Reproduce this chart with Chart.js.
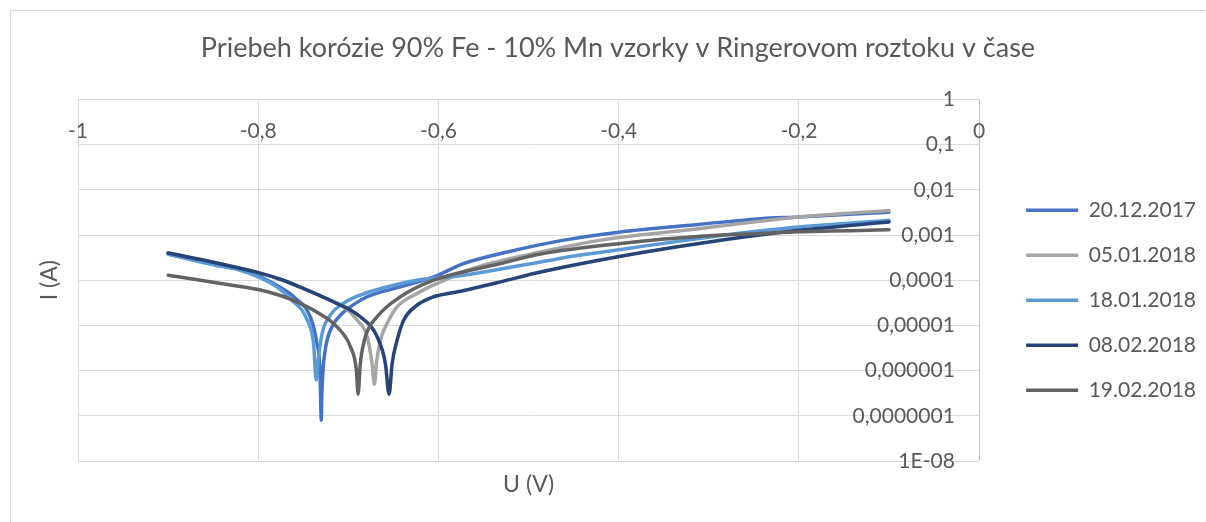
<!DOCTYPE html>
<html>
<head>
<meta charset="utf-8">
<script src="https://cdn.jsdelivr.net/npm/chart.js@4/dist/chart.umd.min.js"></script>
<style>
  body { margin: 0; background: #ffffff; }
</style>
</head>
<body>
<canvas id="line-chart" width="1206" height="522"></canvas>
<script>
// series names
var seriesNames = ["20.12.2017", "05.01.2018", "18.01.2018", "08.02.2018", "19.02.2018"];
var seriesColors = ["#4472C4", "#A5A5A5", "#5B9BD5", "#264478", "#636363"];

// U (V) / I (A) per series
var u1 = [-0.9, -0.85, -0.82, -0.8, -0.79, -0.78, -0.76, -0.742, -0.735, -0.7315, -0.730, -0.7295, -0.7281, -0.7244, -0.7181, -0.707, -0.6978, -0.6792, -0.6422, -0.6052, -0.5719, -0.5237, -0.4608, -0.3978, -0.3089, -0.2422, -0.2, -0.1];
var i1 = [3.9e-4, 2.3e-4, 1.7e-4, 1.25e-4, 1.0e-4, 7.8e-5, 4.2e-5, 1.5e-5, 4.2e-6, 1.0e-6, 8.0e-8, 2.6e-7, 1.03e-6, 4.0e-6, 9.3e-6, 1.84e-5, 2.57e-5, 4.3e-5, 7.1e-5, 1.18e-4, 2.34e-4, 4.2e-4, 7.7e-4, 1.17e-3, 1.73e-3, 2.3e-3, 2.5e-3, 3.2e-3];

var u2 = [-0.9, -0.85, -0.8, -0.7756, -0.7533, -0.724, -0.705, -0.69, -0.679, -0.6737, -0.671, -0.6689, -0.6644, -0.657, -0.6459, -0.6237, -0.6014, -0.561, -0.4867, -0.42, -0.3089, -0.2, -0.1];
var i2 = [4.0e-4, 2.5e-4, 1.47e-4, 1.05e-4, 7.0e-5, 3.9e-5, 2.57e-5, 1.3e-5, 5.6e-6, 1.44e-6, 5.0e-7, 1.44e-6, 4.7e-6, 1.1e-5, 2.57e-5, 5.1e-5, 8.5e-5, 1.84e-4, 4.2e-4, 7.7e-4, 1.4e-3, 2.5e-3, 3.5e-3];

var u3 = [-0.9, -0.85, -0.82, -0.8, -0.79, -0.7793, -0.7644, -0.746, -0.7386, -0.7356, -0.733, -0.7292, -0.72, -0.7052, -0.6867, -0.6608, -0.6237, -0.5756, -0.4867, -0.4422, -0.3978, -0.3089, -0.2422, -0.2, -0.1];
var i3 = [3.76e-4, 2.18e-4, 1.66e-4, 1.19e-4, 9.5e-5, 7.1e-5, 3.9e-5, 1.37e-5, 4.0e-6, 6.2e-7, 2.0e-6, 6.6e-6, 1.69e-5, 3.1e-5, 4.7e-5, 6.8e-5, 1.0e-4, 1.26e-4, 2.54e-4, 3.6e-4, 4.8e-4, 8.5e-4, 1.24e-3, 1.51e-3, 2.12e-3];

var u4 = [-0.9, -0.85, -0.8, -0.7756, -0.7533, -0.7163, -0.6867, -0.668, -0.6589, -0.6548, -0.6514, -0.6459, -0.6386, -0.6237, -0.6052, -0.5756, -0.5311, -0.4867, -0.3978, -0.3089, -0.2, -0.1];
var i4 = [4.0e-4, 2.5e-4, 1.47e-4, 1.05e-4, 7.0e-5, 3.3e-5, 1.55e-5, 5.6e-6, 1.44e-6, 3.0e-7, 1.44e-6, 4.7e-6, 1.3e-5, 2.8e-5, 4.3e-5, 5.7e-5, 9.2e-5, 1.52e-4, 3.4e-4, 6.6e-4, 1.27e-3, 1.94e-3];

var u5 = [-0.9, -0.85, -0.8, -0.78, -0.7644, -0.7348, -0.7126, -0.6978, -0.6911, -0.6892, -0.6867, -0.6811, -0.6681, -0.6422, -0.6052, -0.5311, -0.4867, -0.3978, -0.3089, -0.2422, -0.2, -0.1];
var i5 = [1.29e-4, 9.0e-5, 6.2e-5, 4.9e-5, 3.8e-5, 1.96e-5, 9.3e-6, 3.4e-6, 1.03e-6, 3.0e-7, 1.44e-6, 5.6e-6, 1.55e-5, 4.3e-5, 1.0e-4, 2.34e-4, 3.8e-4, 6.5e-4, 9.4e-4, 1.08e-3, 1.18e-3, 1.3e-3];

// tick labels
var xTickLabels = ["-1", "-0,8", "-0,6", "-0,4", "-0,2", "0"];
var yTickValues = [1e-8, 1e-7, 1e-6, 1e-5, 1e-4, 1e-3, 1e-2, 1e-1, 1];
var yTickLabels = ["1E-08", "0,0000001", "0,000001", "0,00001", "0,0001", "0,001", "0,01", "0,1", "1"];

var uSets = [u1, u2, u3, u4, u5];
var iSets = [i1, i2, i3, i4, i5];

var txtColor = "#595959";
var gridColor = "#d9d9d9";

var datasets = seriesNames.map(function(name, k) {
  return {
    label: name,
    data: uSets[k].map(function(u, n) { return {x: u, y: iSets[k][n]}; }),
    borderColor: seriesColors[k],
    backgroundColor: seriesColors[k],
    borderWidth: 3.5,
    borderCapStyle: "round",
    borderJoinStyle: "round",
    pointRadius: 0,
    showLine: true,
    cubicInterpolationMode: "monotone",
    order: seriesNames.length - k   // later series on top, like excel
  };
});

// excel style frame round the whole chart
var chartFrame = {
  id: "chartFrame",
  beforeDraw: function(chart) {
    var ctx = chart.ctx;
    ctx.save();
    ctx.fillStyle = "#ffffff";
    ctx.fillRect(0, 0, chart.width, chart.height);
    ctx.strokeStyle = gridColor;
    ctx.lineWidth = 1;
    ctx.strokeRect(10.5, 10.5, chart.width, chart.height);
    ctx.restore();
  }
};

new Chart(document.getElementById("line-chart"), {
  type: "scatter",
  data: { datasets: datasets },
  plugins: [chartFrame],
  options: {
    responsive: false,
    animation: false,
    layout: { padding: { left: 30, right: 0, top: 0, bottom: 0 } },
    plugins: {
      tooltip: { enabled: false },
      title: {
        display: true,
        text: "Priebeh korózie 90% Fe - 10% Mn vzorky v Ringerovom roztoku v čase",
        color: txtColor,
        font: { family: "Lato", size: 27, weight: "normal", lineHeight: 1.2 },
        padding: { top: 32, bottom: 35 }
      },
      legend: {
        position: "right",
        fullSize: false,
        maxWidth: 320,
        title: { display: true, text: "", font: { size: 10, lineHeight: 1 }, padding: 15 },
        labels: {
          color: txtColor,
          font: { family: "Lato", size: 21 },
          usePointStyle: true,
          pointStyle: "line",
          pointStyleWidth: 52,
          padding: 24,
          sort: function(a, b) { return a.datasetIndex - b.datasetIndex; }
        }
      }
    },
    scales: {
      x: {
        type: "linear",
        min: -1,
        max: 0,
        position: { y: 1 },
        grid: {
          drawTicks: false,
          color: function(c) { return c.tick && c.tick.value === 0 ? "#bfbfbf" : gridColor; }
        },
        border: { color: gridColor },
        ticks: {
          stepSize: 0.2,
          color: txtColor,
          padding: 19,
          font: { family: "Lato", size: 21 },
          callback: function(v, idx) { return xTickLabels[idx]; }
        }
      },
      y: {
        type: "logarithmic",
        min: 1e-8,
        max: 1,
        // labels sit left of the U = 0 line, the line itself is the x grid line at 0
        position: { x: -0.027 },
        grid: { color: gridColor, drawTicks: false },
        border: { display: false },
        afterBuildTicks: function(scale) {
          scale.ticks = yTickValues.map(function(v) { return {value: v}; });
        },
        ticks: {
          color: txtColor,
          font: { family: "Lato", size: 21 },
          callback: function(v, idx) { return yTickLabels[idx]; }
        }
      },
      // empty scales, only used for the axis titles and spacing
      yTitle: {
        type: "linear",
        position: "left",
        grid: { display: false },
        border: { display: false },
        ticks: { display: false },
        title: {
          display: true,
          text: "I (A)",
          color: txtColor,
          font: { family: "Lato", size: 23 },
          padding: { top: 6, bottom: 0 }
        },
        afterFit: function(scale) { scale.width = 48; }
      },
      xTitle: {
        type: "linear",
        position: "bottom",
        grid: { display: false },
        border: { display: false },
        ticks: { display: false },
        title: {
          display: true,
          text: "U (V)",
          color: txtColor,
          font: { family: "Lato", size: 23 },
          padding: { top: 0, bottom: 24 }
        },
        afterFit: function(scale) { scale.height = 61; }
      },
      yGap: {
        type: "linear",
        position: "right",
        grid: { display: false },
        border: { display: false },
        ticks: { display: false },
        afterFit: function(scale) { scale.width = 23; }
      }
    }
  }
});
</script>
</body>
</html>
